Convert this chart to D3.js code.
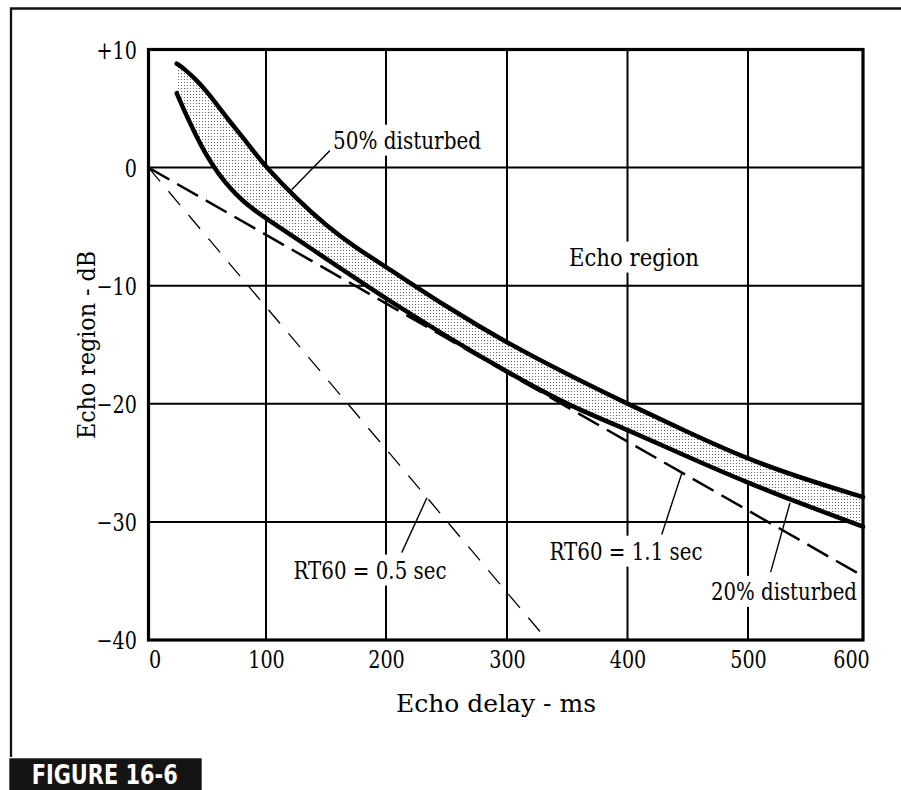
<!DOCTYPE html>
<html><head><meta charset="utf-8">
<script src="https://cdn.jsdelivr.net/npm/d3@7"></script>
<style>html,body{margin:0;padding:0;background:#fff;} svg{display:block;}</style>
</head><body>
<svg id="chart" width="901" height="790"></svg>
<script>
// ---- data ----
const delays      = [24, 30, 40, 50, 60, 70, 80, 90, 100, 125, 150, 175, 200, 250, 300, 350, 400, 450, 500, 550, 600];
const disturbed50 = [8.8, 8.4, 7.5, 6.4, 5.1, 3.8, 2.6, 1.3, 0.05, -2.6, -4.9, -6.8, -8.4, -11.8, -14.85, -17.5, -20.0, -22.4, -24.7, -26.4, -27.9];
const disturbed20 = [6.3, 4.9, 2.8, 0.9, -0.6, -1.8, -2.8, -3.6, -4.3, -6.0, -7.7, -9.4, -11.1, -14.3, -17.3, -20.1, -22.2, -24.5, -26.7, -28.6, -30.4];
const rt11Delay = [0, 600],   rt11Level = [0, -34.6];
const rt05Delay = [0, 333.3], rt05Level = [0, -40];
const xTicks = [0, 100, 200, 300, 400, 500, 600];
const yTicks = [10, 0, -10, -20, -30, -40];
const yTickLabels = ["+10", "0", "\u221210", "\u221220", "\u221230", "\u221240"];

const SERIF = "DejaVu Serif";
const FS = 24.5;

const svg = d3.select("#chart");
const x = d3.scaleLinear().domain(xTicks).range([148.5, 266, 386, 507, 627.5, 748, 863]);
const y = d3.scaleLinear().domain([-40, 10]).range([640, 49.5]);

// measure serif width to emulate the narrow book face (tick labels)
const probe = svg.append("text").attr("font-family", SERIF).attr("font-size", FS).text("600");
const sx = 36.6 / probe.node().getComputedTextLength();
probe.remove();

// stipple pattern
const defs = svg.append("defs");
const pat = defs.append("pattern").attr("id", "stipple").attr("patternUnits", "userSpaceOnUse")
  .attr("width", 3).attr("height", 3);
pat.append("rect").attr("width", 3).attr("height", 3).attr("fill", "#fff");
pat.append("rect").attr("x", 1).attr("y", 1).attr("width", 1).attr("height", 1).attr("fill", "#6a6a6a");

// outer figure frame
svg.append("path").attr("d", "M901,8.5H11V757").attr("fill", "none").attr("stroke", "#111").attr("stroke-width", 2.3);

// grid
const grid = svg.append("g");
grid.selectAll("line.v").data(xTicks.slice(1, -1)).join("line").attr("class", "v")
  .attr("x1", d => x(d)).attr("x2", d => x(d)).attr("y1", y(10)).attr("y2", y(-40))
  .attr("stroke", "#000").attr("stroke-width", 2);
grid.selectAll("line.h").data(yTicks.slice(1, -1)).join("line").attr("class", "h")
  .attr("y1", d => y(d)).attr("y2", d => y(d)).attr("x1", x(0)).attr("x2", x(600))
  .attr("stroke", "#000").attr("stroke-width", 2);

// RT60 dashed lines
const straight = d3.line().x(d => x(d[0])).y(d => y(d[1]));
svg.append("path").attr("d", straight(d3.zip(rt05Delay, rt05Level)))
  .attr("fill", "none").attr("stroke", "#000").attr("stroke-width", 1.3).attr("stroke-dasharray", "18,13");
svg.append("path").attr("d", straight(d3.zip(rt11Delay, rt11Level)))
  .attr("fill", "none").attr("stroke", "#000").attr("stroke-width", 2.5).attr("stroke-dasharray", "24,9");

// band
const rows = delays.map((d, i) => ({ delay: d, hi: disturbed50[i], lo: disturbed20[i] }));
svg.append("path").datum(rows)
  .attr("d", d3.area().curve(d3.curveBasis).x(d => x(d.delay)).y0(d => y(d.lo)).y1(d => y(d.hi)))
  .attr("fill", "url(#stipple)");
const curveLine = key => d3.line().curve(d3.curveBasis).x(d => x(d.delay)).y(d => y(d[key]));
["hi", "lo"].forEach(k => {
  svg.append("path").datum(rows).attr("d", curveLine(k))
    .attr("fill", "none").attr("stroke", "#000").attr("stroke-width", 4.5).attr("stroke-linecap", "round");
});

// plot frame
svg.append("rect").attr("x", x(0)).attr("y", y(10)).attr("width", x(600) - x(0)).attr("height", y(-40) - y(10))
  .attr("fill", "none").attr("stroke", "#000").attr("stroke-width", 3.2);

// axes (labels only)
const xAxis = svg.append("g").attr("transform", `translate(0,${y(-40)})`)
  .call(d3.axisBottom(x).tickValues(xTicks).tickSize(0).tickPadding(0).tickFormat(d3.format("d")));
xAxis.select(".domain").remove();
xAxis.selectAll("text").attr("font-family", SERIF).attr("font-size", FS).attr("fill", "#000")
  .attr("y", 0).attr("dy", 0)
  .attr("text-anchor", (d, i) => i === 0 ? "start" : "middle")
  .attr("transform", (d, i) => `translate(${i === xTicks.length - 1 ? -12 : 0},28) scale(${sx},1)`)
  .attr("dominant-baseline", "alphabetic");

const yAxis = svg.append("g").attr("transform", `translate(${x(0)},0)`)
  .call(d3.axisLeft(y).tickValues(yTicks).tickSize(0).tickPadding(0).tickFormat((d, i) => yTickLabels[i]));
yAxis.select(".domain").remove();
yAxis.selectAll("text").attr("font-family", SERIF).attr("font-size", FS).attr("fill", "#000")
  .attr("x", 0).attr("dy", "0.36em").attr("text-anchor", "end")
  .attr("transform", `translate(-11.5,0) scale(${sx},1)`);

// annotation helper: text fitted to the width seen in the reference
function label(px, py, str, width, bg, rotate) {
  const g = svg.append("g").attr("transform", `translate(${px},${py})${rotate ? " rotate(-90)" : ""}`);
  const t = g.append("text").attr("font-family", SERIF).attr("font-size", FS).attr("fill", "#000")
    .attr("text-anchor", "middle").attr("textLength", width).attr("lengthAdjust", "spacingAndGlyphs").text(str);
  if (bg) {
    const b = t.node().getBBox();
    g.insert("rect", "text").attr("x", -width / 2 - 3).attr("y", b.y - 1).attr("width", width + 6).attr("height", b.height + 2)
      .attr("fill", "#fff");
  }
  return g;
}
function leader(a, b) {
  svg.append("line").attr("x1", x(a[0])).attr("y1", y(a[1])).attr("x2", x(b[0])).attr("y2", y(b[1]))
    .attr("stroke", "#000").attr("stroke-width", 1.4);
}

leader([153.3, 1.45], [121.4, -1.88]);
leader([428.4, -31.07], [445, -25.9]);
leader([519.7, -34.25], [536.5, -28.4]);
leader([213, -32.6], [233.8, -27.96]);

label(x(217.4), y(1.6), "50% disturbed", 148, true);
label(x(405.4), y(-8.3), "Echo region", 130, true);
label(x(398.8), y(-33.2), "RT60 = 1.1 sec", 153, true);
label(x(531.3), y(-36.6), "20% disturbed", 146, true);
label(x(186.7), y(-34.8), "RT60 = 0.5 sec", 153, true);

// axis titles
label(496, 712, "Echo delay - ms", 200, false);
label(95, 345, "Echo region - dB", 188, false, true);

// figure tag
svg.append("rect").attr("x", 9.3).attr("y", 758.3).attr("width", 192.4).attr("height", 32).attr("fill", "#141414");
svg.append("text").attr("x", 31.7).attr("y", 783.5).attr("font-family", "DejaVu Sans Condensed, DejaVu Sans")
  .attr("font-weight", "bold").attr("font-size", 26.5).attr("fill", "#fff")
  .attr("textLength", 146).attr("lengthAdjust", "spacingAndGlyphs").text("FIGURE 16-6");
</script>
</body></html>
